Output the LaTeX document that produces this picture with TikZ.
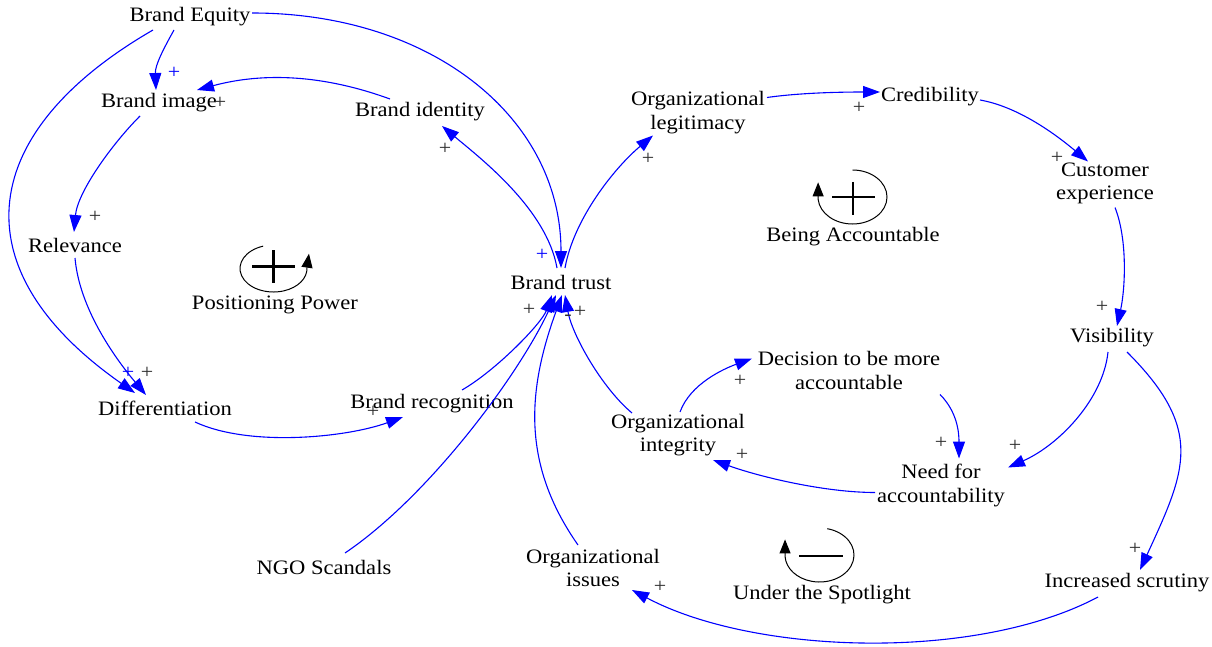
\documentclass[tikz,border=0pt]{standalone}
\usepackage{fontspec}
\setmainfont{Liberation Serif}[FakeStretch=1.1]
\usetikzlibrary{arrows.meta,calc}
\definecolor{linkblue}{RGB}{0,0,255}
\definecolor{signgray}{RGB}{45,45,45}

\begin{document}
\begin{tikzpicture}[x=1pt,y=1pt,
  var/.style={inner sep=0pt, align=center, font=\fontsize{20.5}{23.5}\selectfont},
  link/.style={draw=linkblue, line width=1.1pt, -{Triangle[length=17pt,width=12pt]}},
  pol/.style={inner sep=0pt, font=\fontsize{20}{20}\selectfont, text=signgray},
  bpol/.style={pol, text=linkblue},
  looparc/.style={line width=1pt, -{Triangle[length=14pt,width=11pt]}},
  loopsign/.style={line width=2.4pt}
]
\fill[white] (0,0) rectangle (1212,-647);
\useasboundingbox (0,0) rectangle (1212,-647);

% variables
\node[var] (be)   at (190,-17)    {Brand Equity};
\node[var] (bi)   at (159,-103)   {Brand image};
\node[var] (bid)  at (420,-112)   {Brand identity};
\node[var] (rel)  at (75,-245)    {Relevance};
\node[var] (diff) at (165,-408)   {Differentiation};
\node[var] (brec) at (432,-404)   {Brand recognition};
\node[var] (bt)   at (561,-282)   {Brand trust};
\node[var] (ngo)  at (324,-567)   {NGO Scandals};
\node[var] (oiss) at (593,-568)   {Organizational\\issues};
\node[var] (oleg) at (698,-112.5) {Organizational\\legitimacy};
\node[var] (cred) at (930,-97)    {Credibility};
\node[var] (cexp) at (1105,-183.5){Customer\\experience};
\node[var] (vis)  at (1112,-338)  {Visibility};
\node[var] (dec)  at (849,-370.5) {Decision to be more\\accountable};
\node[var] (oint) at (678,-435)   {Organizational\\integrity};
\node[var] (need) at (941,-485.5) {Need for\\accountability};
\node[var] (inc)  at (1127,-583)  {Increased scrutiny};

% loop names
\node[var] (ppname) at (275,-305) {Positioning Power};
\node[var] (baname) at (853,-237) {Being Accountable};
\node[var] (usname) at (822,-595) {Under the Spotlight};

% causal links
\draw[link] ($(be)+(-16,-13)$) .. controls +(-10,-18) and +(-1,25) .. ($(bi)+(-3,13)$);
\draw[link] ($(be)+(-37,-13)$) .. controls +(-150:200) and +(145:220) .. ($(diff)+(-30,15)$);
\draw[link] ($(be)+(62,4)$) .. controls +(180,0) and +(0,150) .. ($(bt)+(0,14)$);
\draw[link] ($(bid)+(-30,13)$) .. controls +(160:70) and +(15:70) .. ($(bi)+(38,13)$);
\draw[link] ($(bt)+(-4,14)$) .. controls +(100:60) and +(-40:50) .. ($(bid)+(22,-14)$);
\draw[link] ($(bi)+(-19,-13)$) .. controls +(-135:40) and +(85:40) .. ($(rel)+(-1,13)$);
\draw[link] ($(rel)+(0,-13)$) .. controls +(-85:50) and +(130:50) .. ($(diff)+(-19,13)$);
\draw[link] ($(diff)+(30,-14)$) .. controls +(-25:60) and +(200:60) .. ($(brec)+(-29,-13)$);
\draw[link] ($(brec)+(30,14)$) .. controls +(30:40) and +(-110:30) .. ($(bt)+(-9,-13)$);
\draw[link] ($(ngo)+(21,14)$) .. controls +(34:100) and +(-115:90) .. ($(bt)+(-5,-13)$);
\draw[link] ($(oiss)+(-15,23)$) .. controls +(125:100) and +(-110:100) .. ($(bt)+(1,-13)$);
\draw[link] ($(oint)+(-46,22)$) .. controls +(140:40) and +(-80:40) .. ($(bt)+(4,-13)$);
\draw[link] ($(bt)+(4,14)$) .. controls +(80:50) and +(-140:50) .. ($(oleg)+(-45,-23)$);
\draw[link] ($(oleg)+(69,15)$) .. controls +(35,5) and +(-35,0) .. ($(cred)+(-50,5)$);
\draw[link] ($(cred)+(50,-3)$) .. controls +(-10:40) and +(140:40) .. ($(cexp)+(-17,22)$);
\draw[link] ($(cexp)+(10,-24)$) .. controls +(13,-33) and +(8,36) .. ($(vis)+(5,12)$);
\draw[link] ($(vis)+(-4,-14)$) .. controls +(-5,-48) and +(50,22) .. ($(need)+(67,18)$);
\draw[link] ($(vis)+(15,-14)$) .. controls +(78,-78) and +(46,100) .. ($(inc)+(13,13)$);
\draw[link] ($(inc)+(-29,-14)$) .. controls +(-152:138) and +(-28:138) .. ($(oiss)+(39,-22)$);
\draw[link] ($(oint)+(2,23)$) .. controls +(70:30) and +(200:30) .. ($(dec)+(-97,12)$);
\draw[link] ($(dec)+(91,-24)$) .. controls +(-45:25) and +(0,25) .. ($(need)+(18,27)$);
\draw[link] ($(need)+(-66,-7)$) .. controls +(-50,0) and +(47,-17) .. ($(oint)+(35,-25)$);

% link polarities
\node[bpol] at (174,-73)  {+};
\node[pol]  at (220,-103) {+};
\node[pol]  at (95,-217)  {+};
\node[bpol] at (128,-373) {+};
\node[pol]  at (147,-373) {+};
\node[pol]  at (373,-412) {+};
\node[pol]  at (445,-149) {+};
\node[bpol] at (542,-255) {+};
\node[pol]  at (529,-310) {+};
\node[pol]  at (568,-318) {-};
\node[pol]  at (580,-312) {+};
\node[pol]  at (648,-159) {+};
\node[pol]  at (859,-108) {+};
\node[pol]  at (1057,-158){+};
\node[pol]  at (1102,-307){+};
\node[pol]  at (740,-381) {+};
\node[pol]  at (941,-443) {+};
\node[pol]  at (1015,-446){+};
\node[pol]  at (742,-455) {+};
\node[pol]  at (1135,-549){+};
\node[pol]  at (660,-587) {+};

% loop markers
\coordinate (ppc) at (273.5,-268.5);
\draw[looparc] ($(ppc)+(108:33.5 and 23.5)$) arc[start angle=108, end angle=362, x radius=33.5, y radius=23.5] -- ++(2,14);
\draw[loopsign] ($(ppc)+(-21.5,2)$) -- ($(ppc)+(21.5,2)$);
\draw[loopsign] ($(ppc)+(0,18.5)$) -- ($(ppc)+(0,-14.5)$);

\coordinate (bac) at (852.5,-197);
\draw[looparc] ($(bac)+(90:34.5 and 27)$) arc[start angle=90, end angle=-175, x radius=34.5, y radius=27] -- ++(0,17);
\draw[loopsign] ($(bac)+(-20.5,0)$) -- ($(bac)+(22.5,0)$);
\draw[loopsign] ($(bac)+(0.5,15)$) -- ($(bac)+(0.5,-18)$);

\coordinate (usc) at (819.5,-555);
\draw[looparc] ($(usc)+(77:34.5 and 27)$) arc[start angle=77, end angle=-177, x radius=34.5, y radius=27] -- ++(0,17);
\draw[loopsign] ($(usc)+(-20.5,-1)$) -- ($(usc)+(23.5,-1)$);
\end{tikzpicture}
\end{document}
